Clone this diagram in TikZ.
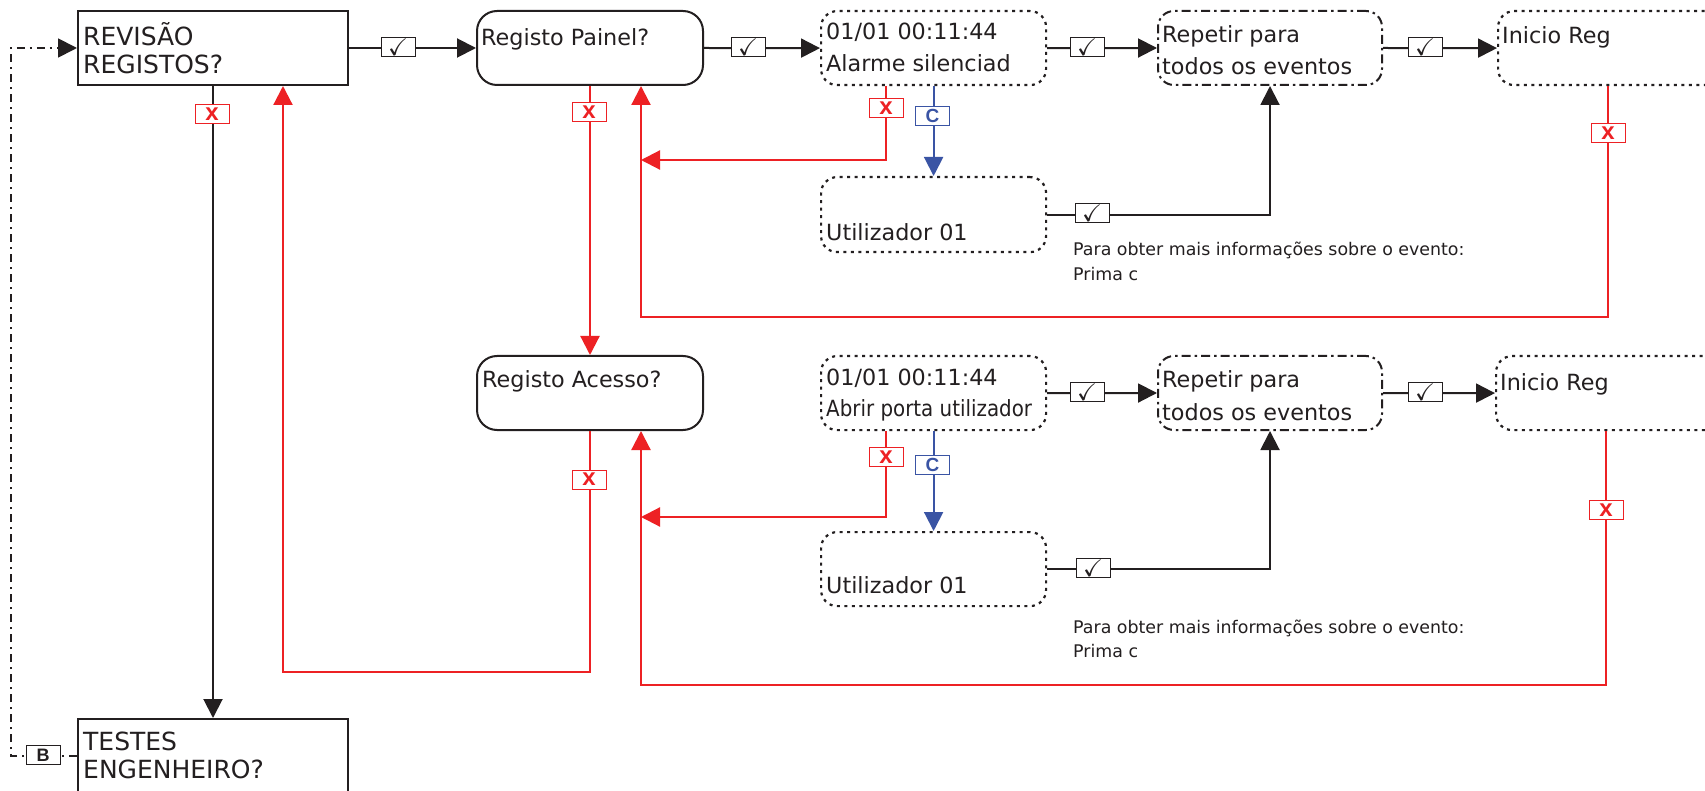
\documentclass[tikz,border=0pt]{standalone}
\usepackage{fontspec}
\usepackage{amssymb}
\setmainfont{DejaVu Sans}
\newfontfamily\condfont{DejaVu Sans}[FakeStretch=0.89]
\newfontfamily\tagfont{Liberation Sans}
\usetikzlibrary{arrows.meta,calc}
\definecolor{ink}{HTML}{231F20}
\definecolor{errred}{HTML}{ED2124}
\definecolor{keyblue}{HTML}{3A54A4}
\tikzset{
  sqbox/.style={draw=ink, line width=2pt, anchor=north west, inner sep=0pt, minimum height=74pt},
  rndbox/.style={sqbox, rounded corners=20pt},
  dotbox/.style={sqbox, rounded corners=16pt, line width=2.2pt, dash pattern=on 3pt off 4.5pt},
  dashdotbox/.style={sqbox, rounded corners=16pt, dash pattern=on 9pt off 4pt on 2.5pt off 4pt},
  txt/.style={anchor=base west, inner sep=0pt, text=ink, font=\fontsize{22.3}{26}\selectfont},
  bigtxt/.style={txt, font=\fontsize{25}{30}\selectfont},
  note/.style={anchor=base west, inner sep=0pt, text=ink, font=\fontsize{17.4}{20}\selectfont},
  tag/.style={draw, fill=white, line width=1pt, minimum width=34pt, minimum height=19pt, inner sep=0pt},
  oktag/.style={tag, draw=ink, text=ink, font=\fontsize{24}{24}\selectfont},
  notag/.style={tag, draw=errred, text=errred, font=\tagfont\bfseries\fontsize{24}{24}\selectfont},
  ctag/.style={tag, draw=keyblue, text=keyblue, font=\tagfont\bfseries\fontsize{19}{19}\selectfont},
  btag/.style={tag, draw=ink, text=ink, font=\tagfont\bfseries\fontsize{18}{18}\selectfont},
  tip/.style={-{Triangle[length=19pt,width=19pt]}},
  flow/.style={tip, line width=2pt, draw=ink, color=ink},
  back/.style={tip, line width=2.2pt, color=errred},
  more/.style={tip, line width=2pt, color=keyblue},
  loopline/.style={tip, line width=1.8pt, color=ink, dash pattern=on 8pt off 5pt on 2pt off 5pt},
}
\begin{document}
\begin{tikzpicture}[x=1pt,y=-1pt]
\useasboundingbox (0,0) rectangle (1705,791);
\fill[white] (0,0) rectangle (1705,791);

% ---- menu boxes ----
\node[sqbox, minimum width=270pt] (rev) at (77,10) {};
\node[sqbox, minimum width=270pt] (tst) at (77,718) {};
\node[rndbox, minimum width=226pt] (pnl) at (476,10) {};
\node[rndbox, minimum width=226pt] (acc) at (476,355) {};

% ---- panel log ----
\node[dotbox, minimum width=225pt] (ev1) at (820,10) {};
\node[dotbox, minimum width=225pt, minimum height=75pt] (usr1) at (820,176) {};
\node[dashdotbox, minimum width=224pt] (rep1) at (1157,10) {};
\node[dotbox, minimum width=260pt] (ini1) at (1497,10) {};

% ---- access log ----
\node[dotbox, minimum width=225pt] (ev2) at (820,355) {};
\node[dotbox, minimum width=225pt] (usr2) at (820,531) {};
\node[dashdotbox, minimum width=224pt] (rep2) at (1157,355) {};
\node[dotbox, minimum width=260pt] (ini2) at (1495,355) {};

% ---- box texts ----
\node[bigtxt] (revT1) at (83,46) {REVISÃO};
\node[bigtxt] (revT2) at (83,74) {REGISTOS?};
\node[bigtxt] (tstT1) at (83,750) {TESTES};
\node[bigtxt] (tstT2) at (83,778) {ENGENHEIRO?};
\node[txt] (pnlT) at (481,46) {Registo Painel?};
\node[txt] (accT) at (482,388) {Registo Acesso?};
\node[txt] (ev1T1) at (826,40) {01/01 00:11:44};
\node[txt] (ev1T2) at (826,72) {Alarme silenciad};
\node[txt] (usr1T) at (826,241) {Utilizador 01};
\node[txt] (rep1T1) at (1162,43) {Repetir para};
\node[txt] (rep1T2) at (1162,75) {todos os eventos};
\node[txt] (ini1T) at (1502,44) {Inicio Reg};
\node[txt] (ev2T1) at (826,385) {01/01 00:11:44};
\node[txt] (ev2T2) at (826,417) {\condfont Abrir porta utilizador};
\node[txt] (usr2T) at (826,593) {Utilizador 01};
\node[txt] (rep2T1) at (1162,388) {Repetir para};
\node[txt] (rep2T2) at (1162,420) {todos os eventos};
\node[txt] (ini2T) at (1500,390) {Inicio Reg};

\node[note] (hint1a) at (1073,256) {Para obter mais informações sobre o evento:};
\node[note] (hint1b) at (1073,281) {Prima c};
\node[note] (hint2a) at (1073,633) {Para obter mais informações sobre o evento:};
\node[note] (hint2b) at (1073,657) {Prima c};

% ---- connection points on box edges ----
\coordinate (pIn) at ($(pnl.south west)+(165,0)$);
\coordinate (aIn) at ($(acc.south west)+(165,0)$);
\coordinate (rIn) at ($(rev.south west)+(206,0)$);
\coordinate (e1x) at ($(ev1.south west)+(66,0)$);
\coordinate (e2x) at ($(ev2.south west)+(66,0)$);
\coordinate (i1x) at ($(ini1.south west)+(111,0)$);
\coordinate (i2x) at ($(ini2.south west)+(111,0)$);

% ---- forward flow ----
\draw[flow] (rev.east) -- (pnl.west);
\draw[flow] (pnl.east) -- (ev1.west);
\draw[flow] (ev1.east) -- (rep1.west);
\draw[flow] (rep1.east) -- (ini1.west);
\draw[flow] (usr1.east) -| (rep1.south);
\draw[flow] (ev2.east) -- (rep2.west);
\draw[flow] (rep2.east) -- (ini2.west);
\draw[flow] (usr2.east) -| (rep2.south);
\draw[flow] (rev.south) -- (tst.north);
\draw[loopline] (tst.west) -- (tst.west -| 11,0) -- (rev.west -| 11,0) -- (rev.west);

% ---- more details ----
\draw[more] (ev1.south) -- (usr1.north);
\draw[more] (ev2.south) -- (usr2.north);

% ---- escape paths ----
\draw[back] (pnl.south) -- (acc.north);
\draw[back] (e1x) |- (pIn |- 0,160);
\draw[back] (i1x) -- (i1x |- 0,317) -- (pIn |- 0,317) -- (pIn);
\draw[back] (acc.south) -- (acc.south |- 0,672) -- (rIn |- 0,672) -- (rIn);
\draw[back] (e2x) |- (aIn |- 0,517);
\draw[back] (i2x) -- (i2x |- 0,685) -- (aIn |- 0,685) -- (aIn);

% ---- key tags ----
\node[oktag] (ckA) at (398,47) {$\checkmark$};
\node[oktag] (ckB) at (748,47) {$\checkmark$};
\node[oktag] (ckC) at (1087,47) {$\checkmark$};
\node[oktag] (ckD) at (1425,47) {$\checkmark$};
\node[oktag] (ckE) at (1092,213.5) {$\checkmark$};
\node[oktag] (ckG) at (1087,392) {$\checkmark$};
\node[oktag] (ckH) at (1425,392) {$\checkmark$};
\node[oktag] (ckI) at (1093,568) {$\checkmark$};
\node[notag] (xA) at (212,114.5) {x};
\node[notag] (xB) at (589,112) {x};
\node[notag] (xC) at (886,108) {x};
\node[notag] (xD) at (1608,133.5) {x};
\node[notag] (xE) at (589,479.5) {x};
\node[notag] (xF) at (886,457) {x};
\node[notag] (xG) at (1606,510) {x};
\node[ctag] (cB1) at (932.5,116) {C};
\node[ctag] (cB2) at (932.5,464.5) {C};
\node[btag] (bB) at (43,755) {B};
\end{tikzpicture}
\end{document}
